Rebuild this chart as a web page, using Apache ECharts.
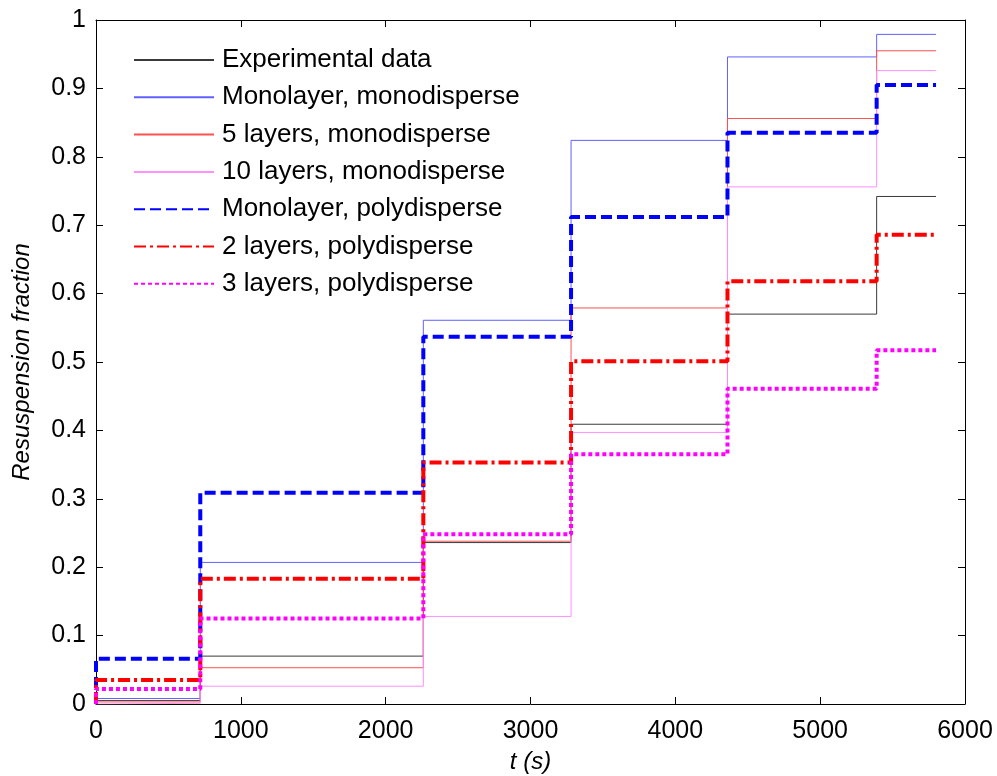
<!DOCTYPE html>
<html>
<head>
<meta charset="utf-8">
<script src="https://cdn.jsdelivr.net/npm/echarts@6/dist/echarts.min.js"></script>
<style>
  html, body { margin: 0; padding: 0; background: #fff; }
  #chart { width: 997px; height: 776px; }
</style>
</head>
<body>
<div id="chart"></div>
<script>
// Step boundaries in seconds (each value holds from one boundary to the next)
const stepTimes = [0, 720, 2260, 3280, 4360, 5390, 5800];

// Resuspension fraction on each interval
const experimental   = [0.005, 0.070, 0.236, 0.409, 0.570, 0.742];
const monoMonolayer  = [0.008, 0.207, 0.561, 0.824, 0.946, 0.979];
const mono5Layers    = [0.003, 0.053, 0.238, 0.579, 0.856, 0.955];
const mono10Layers   = [0.001, 0.026, 0.128, 0.397, 0.756, 0.926];
const polyMonolayer  = [0.066, 0.309, 0.537, 0.712, 0.835, 0.905];
const poly2Layers    = [0.035, 0.183, 0.353, 0.501, 0.618, 0.686];
const poly3Layers    = [0.022, 0.125, 0.248, 0.365, 0.461, 0.517];

const xTicks = [0, 1000, 2000, 3000, 4000, 5000, 6000];
const yTicks = [0, 0.1, 0.2, 0.3, 0.4, 0.5, 0.6, 0.7, 0.8, 0.9, 1];

// Build staircase vertices starting from zero at t = 0
function staircase(values) {
  const pts = [[stepTimes[0], 0]];
  for (let i = 0; i < values.length; i++) {
    pts.push([stepTimes[i], values[i]]);
    pts.push([stepTimes[i + 1], values[i]]);
  }
  return pts;
}

const FONT = 'Liberation Sans, Arial, sans-serif';

function lineSeries(name, values, style) {
  return {
    name: name,
    type: 'line',
    data: staircase(values),
    symbol: 'none',
    silent: true,
    animation: false,
    lineStyle: style,
    itemStyle: { color: style.color },
    color: style.color
  };
}

const series = [
  lineSeries('Experimental data', experimental, { color: '#3a3a3a', width: 1, type: 'solid' }),
  lineSeries('Monolayer, monodisperse', monoMonolayer, { color: '#6060ff', width: 1, type: 'solid' }),
  lineSeries('5 layers, monodisperse', mono5Layers, { color: '#ff5050', width: 1, type: 'solid' }),
  lineSeries('10 layers, monodisperse', mono10Layers, { color: '#ff90ff', width: 1, type: 'solid' }),
  lineSeries('Monolayer, polydisperse', polyMonolayer, { color: '#0000ff', width: 4, type: [11, 5], cap: 'butt' }),
  lineSeries('2 layers, polydisperse', poly2Layers, { color: '#ff0000', width: 4, type: [12, 4, 3, 4], cap: 'butt' }),
  lineSeries('3 layers, polydisperse', poly3Layers, { color: '#ff00ff', width: 4, type: [4, 3], cap: 'butt' })
];

const axisLabelStyle = { fontFamily: FONT, fontSize: 25, color: '#000' };

const chart = echarts.init(document.getElementById('chart'), null, { renderer: 'canvas' });
chart.setOption({
  backgroundColor: '#ffffff',
  animation: false,
  grid: { left: 96, top: 20, width: 869, height: 684, containLabel: false, outerBoundsMode: 'none' },
  legend: {
    orient: 'vertical',
    left: 128,
    top: 42,
    itemWidth: 80,
    itemHeight: 20,
    itemGap: 11.3,
    selectedMode: false,
    itemStyle: { opacity: 0 },
    textStyle: { fontFamily: FONT, fontSize: 26, color: '#000', lineHeight: 25, padding: [0, 0, 0, 3] },
    data: series.map(s => s.name)
  },
  xAxis: [
    {
      type: 'value', min: 0, max: 6000, interval: 1000,
      name: 't (s)', nameLocation: 'middle', nameGap: 46,
      nameTextStyle: { fontFamily: FONT, fontSize: 24, fontStyle: 'italic', color: '#000' },
      axisLine: { show: true, onZero: false, lineStyle: { color: '#000', width: 1 } },
      axisTick: { show: true, inside: true, length: 7, lineStyle: { color: '#000' } },
      axisLabel: Object.assign({ margin: 15, formatter: v => xTicks.includes(v) ? String(v) : '' }, axisLabelStyle),
      splitLine: { show: false }
    },
    {
      type: 'value', min: 0, max: 6000, interval: 1000, position: 'top',
      axisLine: { show: true, onZero: false, lineStyle: { color: '#000', width: 1 } },
      axisTick: { show: true, inside: true, length: 7, lineStyle: { color: '#000' } },
      axisLabel: { show: false },
      splitLine: { show: false }
    }
  ],
  yAxis: [
    {
      type: 'value', min: 0, max: 1, interval: 0.1,
      name: 'Resuspension fraction', nameLocation: 'middle', nameGap: 62,
      nameTextStyle: { fontFamily: FONT, fontSize: 24, fontStyle: 'italic', color: '#000' },
      axisLine: { show: true, onZero: false, lineStyle: { color: '#000', width: 1 } },
      axisTick: { show: true, inside: true, length: 7, lineStyle: { color: '#000' } },
      axisLabel: Object.assign({ margin: 10, formatter: v => {
        const t = yTicks.find(k => Math.abs(k - v) < 1e-9);
        return t === undefined ? '' : String(t);
      } }, axisLabelStyle),
      splitLine: { show: false }
    },
    {
      type: 'value', min: 0, max: 1, interval: 0.1, position: 'right',
      axisLine: { show: true, onZero: false, lineStyle: { color: '#000', width: 1 } },
      axisTick: { show: true, inside: true, length: 7, lineStyle: { color: '#000' } },
      axisLabel: { show: false },
      splitLine: { show: false }
    }
  ],
  series: series
});
</script>
</body>
</html>
